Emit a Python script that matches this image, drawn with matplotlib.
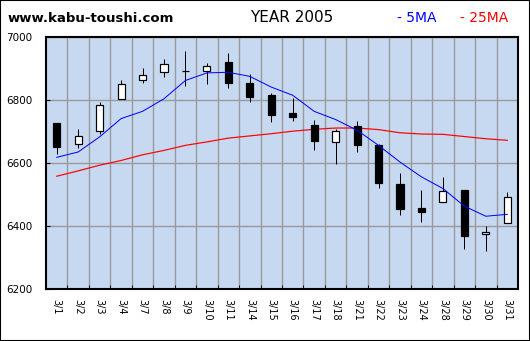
import matplotlib
matplotlib.use("Agg")
import matplotlib.pyplot as plt
import numpy as np
from matplotlib.patches import Rectangle

# daily prices, March 2005
dates = ["3/1", "3/2", "3/3", "3/4", "3/7", "3/8", "3/9", "3/10", "3/11", "3/14", "3/15",
         "3/16", "3/17", "3/18", "3/21", "3/22", "3/23", "3/24", "3/28", "3/29", "3/30", "3/31"]
opens = [6727, 6661, 6703, 6802, 6865, 6888, 6893, 6891, 6921, 6854, 6816,
         6759, 6721, 6666, 6717, 6658, 6533, 6457, 6475, 6514, 6374, 6408]
highs = [6728, 6708, 6793, 6862, 6902, 6929, 6956, 6917, 6949, 6883, 6822,
         6806, 6737, 6709, 6733, 6659, 6568, 6514, 6556, 6514, 6400, 6508]
lows = [6630, 6649, 6693, 6802, 6855, 6874, 6846, 6852, 6839, 6795, 6731,
        6734, 6642, 6598, 6635, 6522, 6436, 6414, 6475, 6328, 6322, 6408]
closes = [6652, 6686, 6783, 6850, 6878, 6913, 6893, 6907, 6855, 6810, 6753,
          6747, 6671, 6701, 6658, 6538, 6455, 6446, 6511, 6369, 6381, 6491]
ma5 = [6618, 6635, 6683, 6741, 6764, 6804, 6862, 6886, 6888, 6875, 6841,
       6815, 6764, 6738, 6704, 6656, 6603, 6556, 6519, 6463, 6431, 6437]
ma25 = [6558, 6575, 6593, 6608, 6626, 6640, 6656, 6667, 6679, 6686, 6693,
        6701, 6707, 6711, 6711, 6706, 6696, 6692, 6691, 6684, 6677, 6672]

px = 1 / 100
one_px = 0.72  # one pixel in points at 100 dpi
fig = plt.figure(figsize=(530 * px, 341 * px), dpi=100)
fig.patch.set_facecolor("white")
fig.patches.append(Rectangle((0, 0), 1, 1, transform=fig.transFigure,
                             fill=False, edgecolor="black", linewidth=1.5))

ax = fig.add_axes([46 / 530, 1 - 289 / 341, 472 / 530, 252 / 341])
ax.set_facecolor("#c6d9f0")

x = np.arange(len(dates))
o = np.array(opens)
c = np.array(closes)
up = c >= o

ax.vlines(x, lows, highs, color="black", linewidth=one_px, zorder=3)
ax.bar(x, np.abs(c - o), bottom=np.minimum(o, c), width=0.33,
       color=np.where(up, "white", "black"), edgecolor="black",
       linewidth=one_px * 1.2, zorder=4)

ax.plot(x, ma5, color="#0000ff", linewidth=one_px, zorder=5)
ax.plot(x, ma25, color="#ff0000", linewidth=one_px * 1.2, zorder=2)

ax.set_xlim(-0.5, len(dates) - 0.5)
ax.set_ylim(6200, 7000)
ax.set_yticks([6200, 6400, 6600, 6800, 7000])
ax.set_xticks(x)
ax.set_xticklabels(dates, rotation=-90, fontsize=7, va="top", ha="center")
ax.set_xticks(x[:-1] + 0.5, minor=True)
ax.tick_params(axis="x", which="major", length=0, pad=7)
ax.tick_params(axis="x", which="minor", direction="in", length=3)
ax.tick_params(axis="y", direction="in", length=3, pad=10, labelsize=7.5)

ax.grid(True, which="minor", axis="x", color="#999999", linewidth=1)
ax.grid(True, which="major", axis="y", color="#999999", linewidth=1)
ax.set_axisbelow(True)
for s in ax.spines.values():
    s.set_linewidth(1.5)

fig.text(8 / 530, 1 - 18 / 341, "www.kabu-toushi.com", fontsize=9.5,
         fontweight="bold", ha="left", va="center")
fig.text(292 / 530, 1 - 17 / 341, "YEAR 2005", fontsize=11, ha="center", va="center")
fig.text(397 / 530, 1 - 18 / 341, "- 5MA", fontsize=10, color="#0000ff",
         ha="left", va="center")
fig.text(460 / 530, 1 - 18 / 341, "- 25MA", fontsize=10, color="#ff0000",
         ha="left", va="center")

fig.savefig("out.png", dpi=100)
